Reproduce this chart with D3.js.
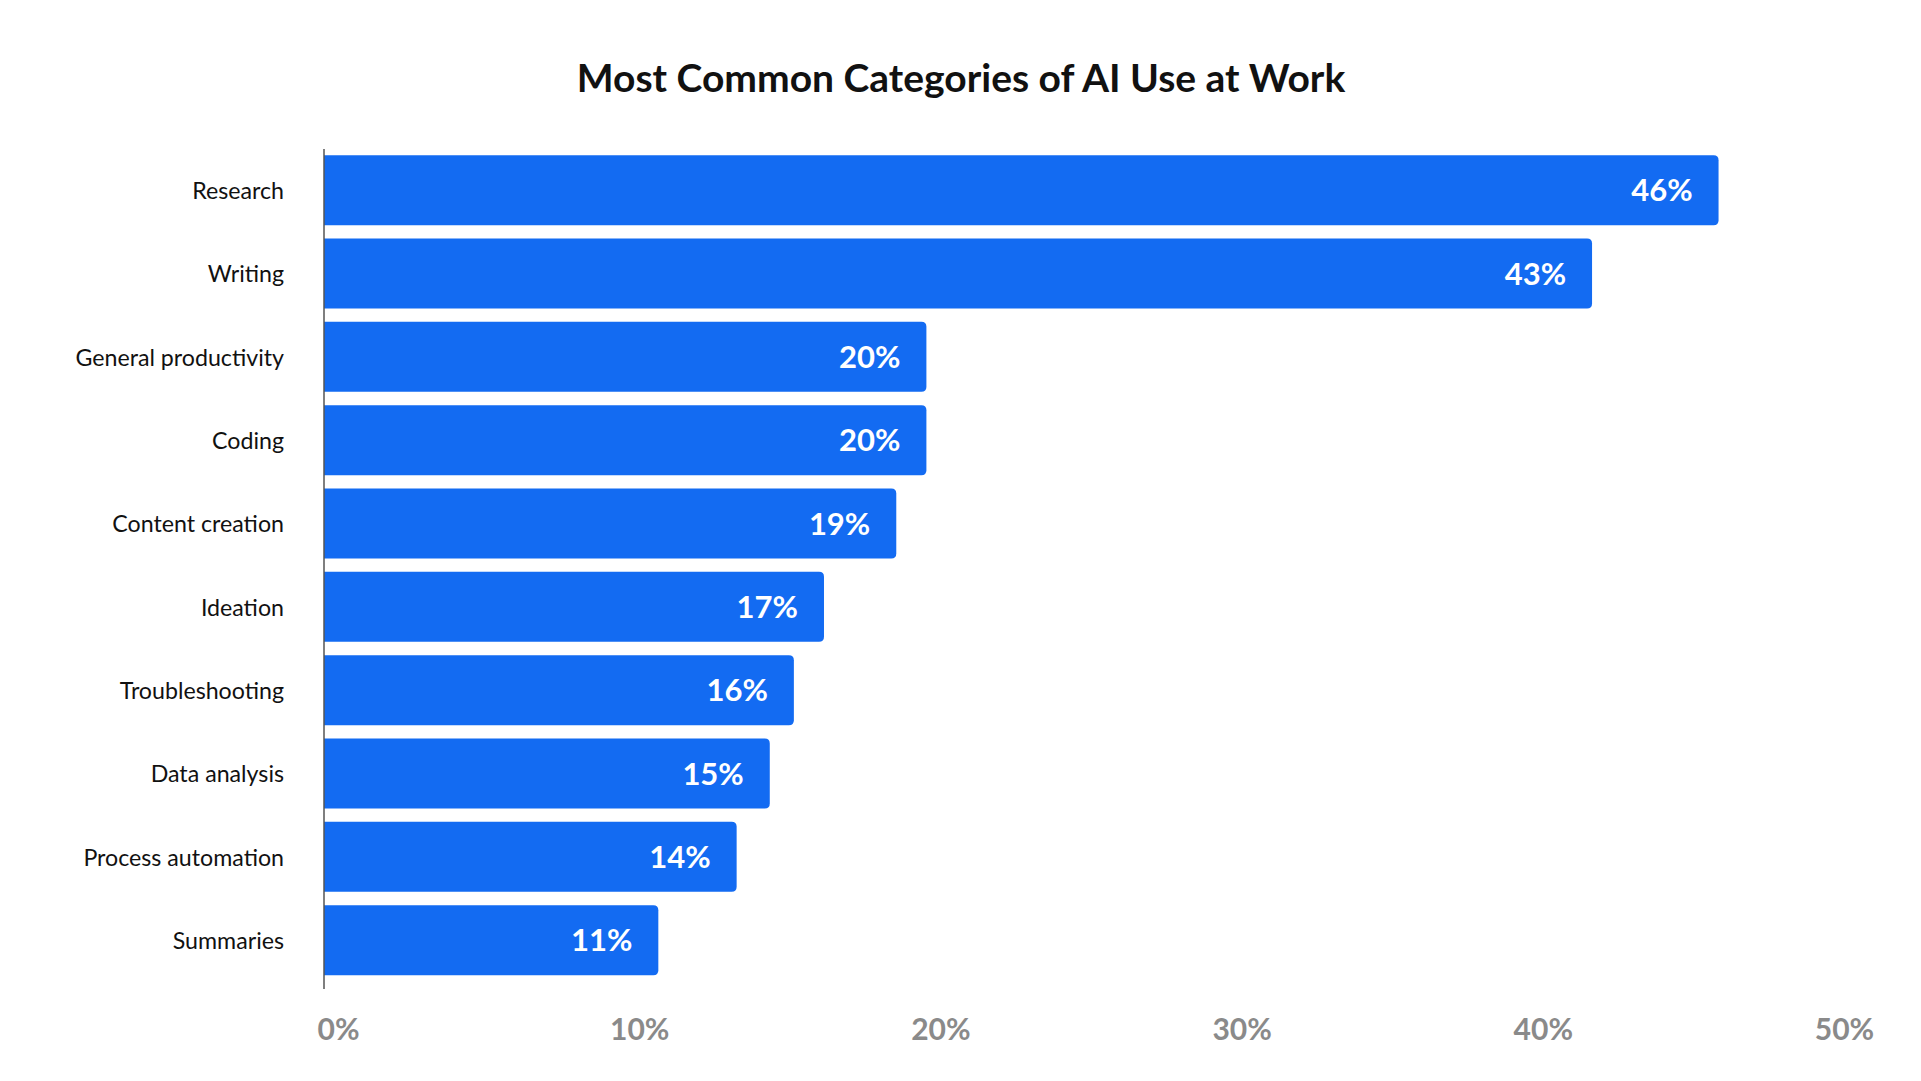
<!DOCTYPE html>
<html>
<head>
<meta charset="utf-8">
<script src="https://cdn.jsdelivr.net/npm/d3@7"></script>
<style>
	body { margin: 0; background: #fff; }
	text { font-family: Lato, 'Noto Sans', sans-serif; }
	.title { font-size: 39px; font-weight: 700; fill: #111; }
	.text-category { font-size: 23.2px; fill: #111; }
	.text-value { font-size: 31px; font-weight: 700; fill: #fff; }
	.text-tick { font-size: 30px; font-weight: 700; fill: #8a8a8a; }
	.line-axis { stroke: #555; stroke-width: 1.5; }
</style>
</head>
<body>
<script>
// - data -

var categories = ['Research', 'Writing', 'General productivity', 'Coding', 'Content creation',
	'Ideation', 'Troubleshooting', 'Data analysis', 'Process automation', 'Summaries'];
var values = [46.3, 42.1, 20.0, 20.0, 19.0, 16.6, 15.6, 14.8, 13.7, 11.1];
var valueLabels = ['46%', '43%', '20%', '20%', '19%', '17%', '16%', '15%', '14%', '11%'];
var xTicks = [0, 10, 20, 30, 40, 50];
var xTickLabels = ['0%', '10%', '20%', '30%', '40%', '50%'];

// - global -

var width = 1921;
var height = 1081;
var barColor = '#136bf2';
var radius = 5;

var svg = d3.select('body').append('svg')
	.attr('width', width)
	.attr('height', height);

var x = d3.scaleLinear()
	.domain([0, 50])
	.range([324, 1830]);

var y = d3.scaleBand()
	.domain(categories)
	.range([148.5, 981.8])
	.paddingInner(0.16)
	.paddingOuter(0.08);

// - helpers -

// rect with only the right corners rounded
const barPath = (x0, y0, w, h, r) => {
	return 'M' + x0 + ',' + y0
		+ 'H' + (x0 + w - r)
		+ 'Q' + (x0 + w) + ',' + y0 + ' ' + (x0 + w) + ',' + (y0 + r)
		+ 'V' + (y0 + h - r)
		+ 'Q' + (x0 + w) + ',' + (y0 + h) + ' ' + (x0 + w - r) + ',' + (y0 + h)
		+ 'H' + x0 + 'Z';
}

// - title -

svg.append('text')
	.attr('class', 'title')
	.attr('x', 961)
	.attr('y', 92)
	.attr('text-anchor', 'middle')
	.text('Most Common Categories of AI Use at Work');

// - bars -

var rows = categories.map((c, i) => ({ category: c, value: values[i], label: valueLabels[i] }));

svg.append('g').selectAll('path')
	.data(rows).enter()
	.append('path')
		.attr('fill', barColor)
		.attr('d', d => barPath(x(0), y(d.category), x(d.value) - x(0), y.bandwidth(), radius));

svg.append('g').selectAll('text')
	.data(rows).enter()
	.append('text')
		.attr('class', 'text-value')
		.attr('x', d => x(d.value) - 26)
		.attr('y', d => y(d.category) + y.bandwidth() / 2)
		.attr('dy', '0.36em')
		.attr('text-anchor', 'end')
		.text(d => d.label);

// - axes -

var yAxis = svg.append('g')
	.attr('transform', 'translate(' + x(0) + ',0)')
	.call(d3.axisLeft(y).tickSize(0).tickPadding(40));

yAxis.select('.domain').remove();
yAxis.selectAll('text')
	.attr('class', 'text-category')
	.attr('fill', null)
	.attr('font-family', null)
	.attr('font-size', null)
	.attr('dy', '0.38em');

svg.append('line')
	.attr('class', 'line-axis')
	.attr('x1', x(0))
	.attr('x2', x(0))
	.attr('y1', 149)
	.attr('y2', 989);

var xAxis = svg.append('g')
	.attr('transform', 'translate(14,1040)')
	.call(d3.axisBottom(x).tickValues(xTicks).tickSize(0)
		.tickFormat((d, i) => xTickLabels[i]));

xAxis.select('.domain').remove();
xAxis.selectAll('text')
	.attr('class', 'text-tick')
	.attr('fill', null)
	.attr('font-family', null)
	.attr('font-size', null)
	.attr('y', 0)
	.attr('dy', 0);
</script>
</body>
</html>
